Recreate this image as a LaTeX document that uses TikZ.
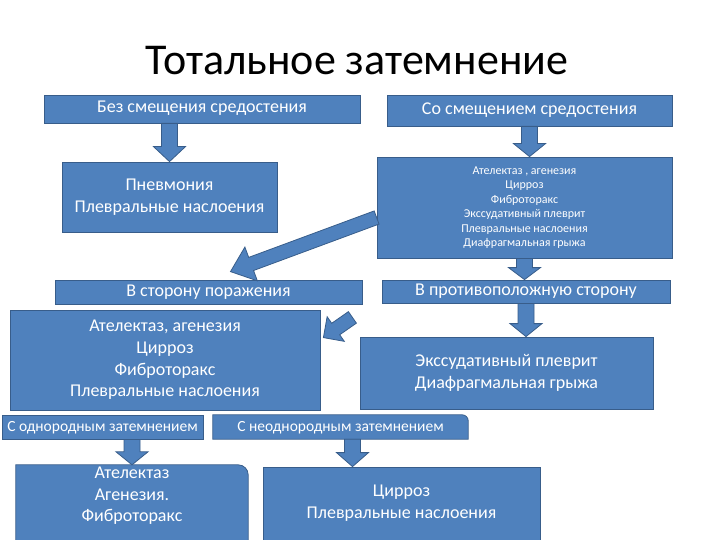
\documentclass[tikz,border=0pt]{standalone}
\usepackage{fontspec}
\setmainfont{Carlito}
\usepackage{tikz}
\usetikzlibrary{calc,backgrounds}

\definecolor{bfill}{RGB}{79,129,189}
\definecolor{bline}{RGB}{56,93,138}

% block arrow: tail, tip, half shaft, half head, head length
\newcommand\blockarrow[5]{%
  \coordinate (ba-s) at (#1);
  \coordinate (ba-t) at (#2);
  \coordinate (ba-c) at ($(ba-t)!#5!(ba-s)$);
  \draw[barr] ($(ba-s)!#3!90:(ba-t)$) -- ($(ba-c)!#3!90:(ba-t)$) -- ($(ba-c)!#4!90:(ba-t)$)
    -- (ba-t) -- ($(ba-c)!#4!-90:(ba-t)$) -- ($(ba-c)!#3!-90:(ba-t)$)
    -- ($(ba-s)!#3!-90:(ba-t)$) -- cycle;}

\begin{document}
\begin{tikzpicture}[x=1pt, y=-1pt,
  box/.style={draw=bline, fill=bfill, line width=0.8pt, text=white, align=center,
              inner sep=2pt, font=\fontsize{18}{21.7}\selectfont},
  tbox/.style={text=white, align=center, inner sep=2pt,
               font=\fontsize{18}{21.7}\selectfont},
  one/.style={text height=12pt, text depth=4pt},
  small/.style={font=\fontsize{12}{14.5}\selectfont},
  mid/.style={font=\fontsize{15.5}{19}\selectfont},
  barr/.style={draw=bline, fill=bfill, line width=0.8pt},
  ttl/.style={font=\fontsize{44}{52}\selectfont}]
\useasboundingbox (0,0) rectangle (720,540);

\node[ttl, anchor=base] (title) at (357,75) {Тотальное затемнение};

\node[box, one, minimum width=316pt, minimum height=28pt] (bez) at (202,109) {Без смещения средостения};
\node[box, one, minimum width=285pt, minimum height=31pt] (so) at (529.5,110.5) {Со смещением средостения};
\node[box, minimum width=215pt, minimum height=70pt] (pnev) at (169.5,197)
  {Пневмония\\Плевральные наслоения};
\node[box, small, minimum width=295pt, minimum height=101pt] (spisok) at (524.5,207.5)
  {Ателектаз , агенезия\\Цирроз\\Фиброторакс\\Экссудативный плеврит\\Плевральные наслоения\\Диафрагмальная грыжа};
\node[box, one, minimum width=307pt, minimum height=24pt] (storonu) at (208.5,292) {В сторону поражения};
\node[box, one, minimum width=288pt, minimum height=23pt] (protiv) at (526,291.5) {В противоположную сторону};
\node[box, minimum width=310pt, minimum height=100pt] (porazh) at (165,360)
  {Ателектаз, агенезия\\Цирроз\\Фиброторакс\\Плевральные наслоения};
\node[box, minimum width=293pt, minimum height=72pt] (eks) at (506.5,373)
  {Экссудативный плеврит\\Диафрагмальная грыжа};
\node[box, mid, one, minimum width=201pt, minimum height=24pt] (odn) at (102.5,427) {С однородным затемнением};
\node[tbox, mid, one, minimum width=255pt, minimum height=24pt] (neodn) at (340.5,427) {С неоднородным затемнением};
\node[tbox, text depth=18pt, minimum width=232pt, minimum height=73pt] (atel) at (132,503.5)
  {Ателектаз\\Агенезия.\\Фиброторакс};
\node[box, minimum width=277pt, minimum height=73pt] (cirr) at (401.5,503.5)
  {Цирроз\\Плевральные наслоения};

\begin{scope}[on background layer]
  \draw[barr] (neodn.south west) -- (neodn.north west) -- ([xshift=-6pt]neodn.north east)
    arc[start angle=90, end angle=0, radius=6pt] -- (neodn.south east) -- cycle;
  \draw[barr] (atel.south west) -- (atel.north west) -- ([xshift=-10pt]atel.north east)
    arc[start angle=90, end angle=0, radius=10pt] -- (atel.south east) -- cycle;
\end{scope}

\blockarrow{pnev.north |- bez.south}{pnev.north}{8pt}{16pt}{15pt}
\blockarrow{so.south}{so.south |- spisok.north}{8pt}{16pt}{13pt}
\blockarrow{spisok.south}{spisok.south |- protiv.north}{8pt}{16pt}{12pt}
\blockarrow{protiv.south}{protiv.south |- eks.north}{8pt}{16pt}{13pt}
\blockarrow{atel.north |- odn.south}{atel.north}{8pt}{16pt}{13pt}
\blockarrow{[xshift=12pt]neodn.south}{[xshift=12pt]neodn.south |- cirr.north}{8pt}{16pt}{14pt}
\blockarrow{[yshift=-10pt]spisok.west}{[xshift=22pt,yshift=8pt]storonu.north}{7pt}{18pt}{22pt}
\blockarrow{[xshift=-10pt,yshift=-13pt]storonu.south east}{[xshift=3pt,yshift=-28pt]porazh.north east}{7pt}{15pt}{15pt}
\end{tikzpicture}
\end{document}
